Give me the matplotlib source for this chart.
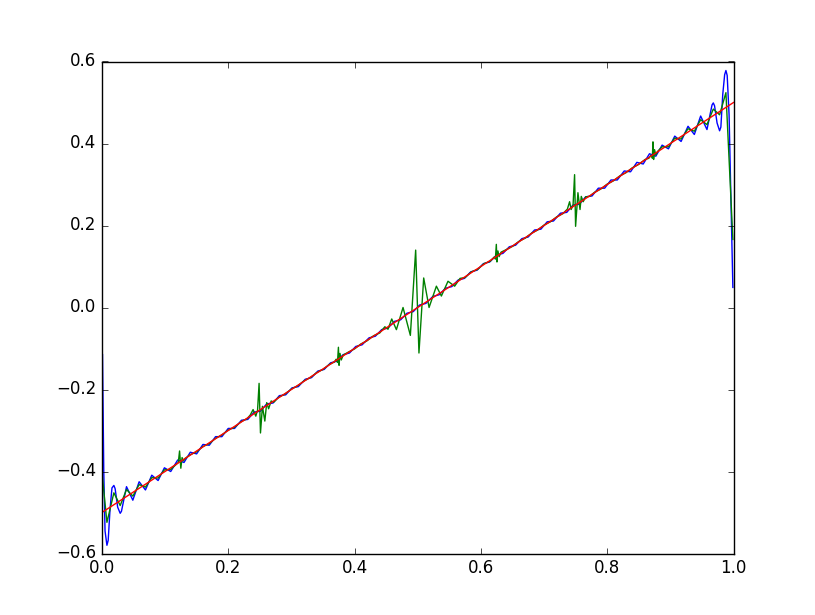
import matplotlib
matplotlib.use("Agg")
import matplotlib.pyplot as plt

# exact line
exact_x = [0.0, 1.0]
exact_y = [-0.5, 0.5]

# blue curve: points (extrema plus a few shoulders near the ends)
fourier_x = [0.001, 0.003, 0.005, 0.008, 0.010, 0.013, 0.016, 0.019, 0.021, 0.025, 0.029, 0.031,
             0.039, 0.049, 0.059, 0.069, 0.079, 0.089, 0.099,
             0.109, 0.120, 0.130, 0.140, 0.150, 0.160, 0.170, 0.180, 0.190, 0.200,
             0.210, 0.221, 0.231, 0.241, 0.251, 0.261, 0.271, 0.281, 0.291, 0.301,
             0.311, 0.322, 0.332, 0.342, 0.352, 0.362, 0.372, 0.382, 0.392, 0.402,
             0.412, 0.423, 0.433, 0.443, 0.453, 0.463, 0.473, 0.483, 0.493, 0.503,
             0.513, 0.524, 0.534, 0.544, 0.554, 0.564, 0.574, 0.584, 0.594, 0.604,
             0.614, 0.625, 0.635, 0.645, 0.655, 0.665, 0.675, 0.685, 0.695, 0.705,
             0.715, 0.726, 0.736, 0.746, 0.756, 0.766, 0.776, 0.786, 0.796, 0.806,
             0.816, 0.827, 0.837, 0.847, 0.857, 0.867, 0.877, 0.887, 0.897, 0.907,
             0.917, 0.928, 0.938, 0.948, 0.958, 0.966, 0.968, 0.970, 0.974, 0.978,
             0.980, 0.983, 0.986, 0.988, 0.990, 0.993, 0.996, 0.999]
fourier_y = [-0.115, -0.400, -0.545, -0.580, -0.568, -0.490, -0.440, -0.434, -0.442, -0.487, -0.502, -0.497,
             -0.437, -0.470, -0.425, -0.445, -0.409, -0.422, -0.391,
             -0.400, -0.372, -0.378, -0.353, -0.357, -0.334, -0.336, -0.315, -0.315, -0.295,
             -0.295, -0.275, -0.273, -0.255, -0.253, -0.235, -0.233, -0.215, -0.213, -0.196,
             -0.193, -0.175, -0.171, -0.155, -0.151, -0.135, -0.131, -0.115, -0.111, -0.095,
             -0.091, -0.074, -0.070, -0.054, -0.050, -0.034, -0.030, -0.014, -0.010, 0.006,
             0.010, 0.027, 0.031, 0.047, 0.051, 0.067, 0.071, 0.087, 0.091, 0.107,
             0.111, 0.128, 0.132, 0.148, 0.152, 0.168, 0.172, 0.189, 0.191, 0.209,
             0.211, 0.230, 0.232, 0.250, 0.252, 0.270, 0.272, 0.291, 0.291, 0.311,
             0.311, 0.333, 0.331, 0.354, 0.350, 0.375, 0.369, 0.396, 0.387, 0.418,
             0.405, 0.442, 0.422, 0.467, 0.434, 0.494, 0.499, 0.492, 0.450, 0.431,
             0.440, 0.520, 0.568, 0.578, 0.566, 0.470, 0.260, 0.049]

# green curve
wavelet_x = [0.0, 0.008, 0.019, 0.029, 0.039, 0.049, 0.059, 0.069, 0.079, 0.089, 0.099, 0.109,
             0.121, 0.123, 0.125, 0.127, 0.129, 0.132,
             0.14, 0.15, 0.16, 0.17, 0.18, 0.19, 0.20, 0.21, 0.22, 0.23, 0.235,
             0.2394, 0.2437, 0.2465, 0.2489, 0.2511, 0.2542, 0.258, 0.261, 0.264, 0.268, 0.272,
             0.28, 0.29, 0.30, 0.31, 0.32, 0.33, 0.34, 0.35, 0.36, 0.368,
             0.371, 0.373, 0.3745, 0.3755, 0.377, 0.379, 0.382,
             0.39, 0.40, 0.41, 0.42, 0.43, 0.44, 0.448, 0.453,
             0.4589, 0.4663, 0.4768, 0.4884, 0.4968, 0.502, 0.5095, 0.518, 0.5296, 0.5375,
             0.548, 0.5585, 0.567, 0.575,
             0.585, 0.595, 0.605, 0.615,
             0.621, 0.623, 0.6245, 0.6255, 0.627, 0.629, 0.632,
             0.64, 0.65, 0.66, 0.67, 0.68, 0.69, 0.70, 0.71, 0.72, 0.73,
             0.737, 0.7405, 0.743, 0.746, 0.7484, 0.750, 0.7537, 0.757, 0.759, 0.762, 0.766, 0.772,
             0.78, 0.79, 0.80, 0.81, 0.82, 0.83, 0.84, 0.85, 0.86, 0.866,
             0.869, 0.8715, 0.8725, 0.8735, 0.875, 0.877, 0.880,
             0.887, 0.897, 0.907, 0.917, 0.928, 0.938, 0.948, 0.958, 0.968, 0.978, 0.988, 0.999]
wavelet_y = [-0.40, -0.524, -0.452, -0.483, -0.444, -0.460, -0.432, -0.438, -0.415, -0.416, -0.396, -0.395,
             -0.378, -0.350, -0.392, -0.366, -0.374, -0.368,
             -0.359, -0.352, -0.339, -0.332, -0.319, -0.311, -0.299, -0.292, -0.279, -0.271, -0.262,
             -0.249, -0.265, -0.250, -0.185, -0.306, -0.241, -0.277, -0.232, -0.247, -0.228, -0.231,
             -0.219, -0.211, -0.199, -0.191, -0.179, -0.171, -0.159, -0.151, -0.139, -0.133,
             -0.126, -0.134, -0.097, -0.141, -0.112, -0.128, -0.116,
             -0.109, -0.101, -0.089, -0.081, -0.069, -0.062, -0.047, -0.053,
             -0.028, -0.054, 0.000, -0.068, 0.140, -0.111, 0.072, 0.000, 0.052, 0.028,
             0.064, 0.052, 0.071, 0.073,
             0.087, 0.093, 0.107, 0.113,
             0.123, 0.118, 0.154, 0.111, 0.138, 0.124, 0.135,
             0.141, 0.149, 0.161, 0.169, 0.181, 0.189, 0.201, 0.209, 0.221, 0.229,
             0.240, 0.258, 0.239, 0.250, 0.324, 0.198, 0.280, 0.239, 0.271, 0.258, 0.270, 0.271,
             0.281, 0.289, 0.301, 0.309, 0.321, 0.329, 0.341, 0.349, 0.361, 0.364,
             0.371, 0.364, 0.404, 0.361, 0.385, 0.372, 0.381,
             0.392, 0.392, 0.413, 0.411, 0.436, 0.430, 0.458, 0.446, 0.484, 0.470, 0.524, 0.166]

plt.style.use('classic')
fig = plt.figure(figsize=(8.15, 6.15), dpi=100)
ax = fig.add_subplot(111)
ax.plot(fourier_x, fourier_y, 'b-')
ax.plot(wavelet_x, wavelet_y, 'g-')
ax.plot(exact_x, exact_y, 'r-')
ax.set_xlim(0.0, 1.0)
ax.set_ylim(-0.6, 0.6)
fig.savefig('out.png', dpi=100)
